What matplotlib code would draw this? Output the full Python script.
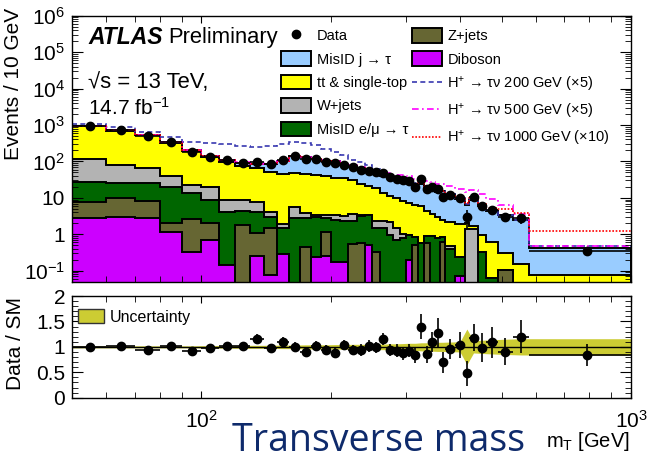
import numpy as np
import matplotlib
matplotlib.use("Agg")
import matplotlib.pyplot as plt
from matplotlib.patches import Patch
from matplotlib.lines import Line2D
from matplotlib.ticker import FixedLocator, FixedFormatter, NullFormatter, MultipleLocator, LogLocator

plt.rcParams['font.family'] = ['Liberation Sans', 'DejaVu Sans']
plt.rcParams['mathtext.default'] = 'regular'

# bin edges in mT [GeV]
edges = np.array([50, 60, 70, 80, 90, 100, 110, 120, 130, 140, 150, 160, 170, 180, 190, 200,
                  210, 220, 230, 240, 250, 260, 270, 280, 290, 300, 310, 320, 330, 340, 350,
                  360, 370, 390, 410, 420, 440, 460, 490, 530, 580, 1000])

# backgrounds (events / 10 GeV)
diboson = [2.75, 2.92, 2.75, 1.18, 0.33, 0.70, 0.144, 0, 0.255, 0.076, 0.29, 0, 0, 0.243, 0.255,
           0.177, 0.177, 0, 0, 0.508, 0, 0, 0, 0, 0, 0.197, 0, 0, 0, 0, 0, 0, 0, 0.07, 0, 0, 0,
           0, 0, 0, 0]
zjets = [5.09, 6.78, 5.6, 0.9, 2.25, 1.3, 0, 1.8, 0.8, 1.38, 0, 0, 0.456, 0, 0.925, 0, 0, 0.53,
         0.56, 0, 0.32, 0, 0, 0, 0, 0, 0.51, 0, 0.57, 0, 0, 0.6, 0, 0, 0, 0, 0, 0, 0.105, 0, 0]
misid_lep = [19.86, 15.3, 17.65, 17.4, 10.7, 6.73, 4.0, 2.64, 3.11, 1.58, 1.17, 2.75, 2.29, 2.8,
             1.57, 2.29, 2.12, 1.77, 2.64, 2.87, 1.14, 1.46, 0.96, 0.70, 0.78, 0.763, 0.32, 0.58,
             0.32, 0.89, 0.78, 0.23, 0.40, 0.17, 0, 0, 0.32, 0.065, 0, 0, 0]
wjets = [86.3, 55, 38.7, 21.1, 8.7, 11.5, 4.55, 4.29, 3.67, 1.13, 0.45, 2.75, 1.02, 0.29, 0.58,
         0.91, 0.9, 1.4, 0.18, 0, 0.82, 0.82, 1.19, 0.76, 0.22, 0, 0, 0, 0, 0, 0, 0, 0.09, 0,
         1.4, 1.4, 0, 0, 0, 0, 0]
ttbar = [816, 625, 455, 287, 173, 110, 89.3, 67.7, 56.9, 46.8, 43.3, 43.5, 41.2, 39.1, 36.7,
         31.6, 31.1, 27.2, 21.4, 18.1, 16.0, 11.0, 9.15, 8.44, 7.4, 6.34, 5.57, 5.22, 3.51,
         2.71, 2.17, 1.64, 1.66, 1.66, 0.6, 0.25, 0.64, 0.56, 0.195, 0.153, 0.074]
misid_jet = [11, 12, 15, 12, 7, 9, 8.5, 15.1, 18.1, 36.5, 54.8, 88, 85, 73.6, 64.5, 65, 47.7,
             45.1, 39.2, 31.5, 32.2, 27.7, 29.2, 24.7, 25.6, 24.1, 17.6, 18.6, 15.8, 14.1,
             11.55, 12.5, 10.35, 7.5, 4.4, 7.25, 5.14, 3.78, 3.1, 2.25, 0.346]

# signals stacked on the background
sig200 = [123, 181, 120, 119, 146, 175, 189, 179, 170, 178, 195, 211, 184, 166, 120, 80, 68, 36,
          33, 27, 11, 4, 3, 2.5, 2, 1.5, 1.2, 1, 0.8, 0.7, 0.6, 0.5, 0.4, 0.3, 0.25, 0.2, 0.15,
          0.1, 0.08, 0.05, 0.05]
sig500 = [1, 1.5, 2, 2, 2.5, 2.5, 3, 3, 3, 3.5, 3.5, 3.5, 4, 4, 4, 4.5, 4.5, 5, 5, 5.5, 6, 7,
          7.5, 8, 8, 8.5, 8.5, 9, 9, 9, 9, 9, 9, 8.5, 8, 7.5, 6.5, 5, 3, 1.2, 0.05]
sig1000 = [0.1, 0.1, 0.1, 0.1, 0.1, 0.15, 0.15, 0.15, 0.15, 0.2, 0.2, 0.2, 0.2, 0.2, 0.25, 0.25,
           0.25, 0.3, 0.3, 0.3, 0.35, 0.35, 0.4, 0.4, 0.4, 0.45, 0.45, 0.5, 0.5, 0.55, 0.6, 0.6,
           0.65, 0.7, 0.8, 0.85, 0.9, 1.0, 1.6, 1.5, 0.83]

data = [938, 729, 499, 348, 187, 135, 109, 93, 95, 85, 109, 137, 118, 118, 98, 89, 82, 72, 60,
        54, 50, 47, 38, 32, 30, 29, 20, 34, 17.3, 19.5, 17.7, 10.5, 12, 9.7, 3.0, 10.5, 6.0, 4.7,
        3.0, 2.75, 0.354]

# data / SM
ratio = [0.997, 1.017, 0.932, 1.023, 0.924, 0.971, 1.023, 1.017, 1.148, 0.971, 1.09, 0.997,
         0.905, 1.017, 0.938, 0.885, 1.03, 0.938, 0.938, 1.017, 0.991, 1.154, 0.938, 0.924,
         0.873, 0.924, 0.84, 1.396, 0.856, 1.101, 1.278, 0.695, 0.957, 1.036, 0.48, 1.18, 0.983,
         1.09, 0.905, 1.2, 0.84]
ratio_err = [0.03, 0.035, 0.04, 0.05, 0.06, 0.07, 0.08, 0.08, 0.1, 0.09, 0.1, 0.09, 0.09, 0.09,
             0.1, 0.1, 0.1, 0.1, 0.11, 0.11, 0.11, 0.12, 0.12, 0.13, 0.13, 0.13, 0.15, 0.25,
             0.17, 0.2, 0.28, 0.2, 0.2, 0.25, 0.25, 0.27, 0.28, 0.3, 0.26, 0.33, 0.21]
band = [0.02, 0.02, 0.02, 0.02, 0.02, 0.025, 0.025, 0.03, 0.03, 0.03, 0.035, 0.035, 0.04, 0.04,
        0.04, 0.045, 0.045, 0.05, 0.05, 0.05, 0.055, 0.055, 0.06, 0.06, 0.065, 0.07, 0.07,
        0.08, 0.08, 0.085, 0.09, 0.09, 0.095, 0.1, 0.35, 0.12, 0.13, 0.14, 0.15, 0.16, 0.16]

centers = 0.5 * (edges[:-1] + edges[1:])
halfw = 0.5 * np.diff(edges)

bkg = np.array([diboson, zjets, misid_lep, wjets, ttbar, misid_jet], dtype=float)
bkg_colors = ['#cc00ff', '#666633', '#006600', '#b3b3b3', '#ffff00', '#99ccff']
cum = np.cumsum(bkg, axis=0)
total = cum[-1]

W, H = 647, 462
fig = plt.figure(figsize=(W / 100, H / 100), dpi=100)


def box(l, t, r, b):
    return [l / W, 1 - b / H, (r - l) / W, (b - t) / H]


ax = fig.add_axes(box(72, 15.7, 631, 281.7))
rax = fig.add_axes(box(72, 296, 631, 397.7))

floor = 1e-3
for lev, col in zip(cum[::-1], bkg_colors[::-1]):
    v = np.maximum(lev, floor)
    ax.stairs(v, edges, baseline=floor, fill=True, facecolor=col, edgecolor='none')
    ax.stairs(v, edges, baseline=floor, color='black', lw=1.4)

ax.stairs(total + np.array(sig200), edges, baseline=None, color='#3838b0', ls=(0, (3, 2)), lw=1.2)
ax.stairs(total + np.array(sig500), edges, baseline=None, color='#ff00ff', ls=(0, (4, 2, 1, 2)), lw=1.2)
ax.stairs(total + np.array(sig1000), edges, baseline=None, color='#ff0000', ls=(0, (1, 1)), lw=1.2)

data = np.array(data)
derr = np.array(ratio_err) * total
ax.errorbar(centers, data, xerr=halfw, yerr=[np.minimum(derr, data * 0.9), derr], fmt='o',
            color='black', ms=6, elinewidth=1.2, capsize=0, zorder=5)

ax.set_xscale('log')
ax.set_yscale('log')
ax.set_xlim(50, 1000)
ax.set_ylim(0.05, 1e6)

# ratio panel
xb = np.concatenate([[edges[0]], centers, [edges[-1]]])
bb = np.array([band[0]] + band + [band[-1]])
rax.fill_between(xb, 1 - bb, 1 + bb, color='#cccc33', lw=0)
rax.axhline(1, color='black', lw=1)
rax.errorbar(centers, ratio, xerr=halfw, yerr=ratio_err, fmt='o', color='black', ms=6,
             elinewidth=1.2, capsize=0, zorder=5)
rax.set_xscale('log')
rax.set_xlim(50, 1000)
rax.set_ylim(0, 2)

# ticks
for a in (ax, rax):
    a.tick_params(which='both', direction='in', top=True, right=True, labelsize=15, pad=5)
    a.xaxis.set_major_locator(FixedLocator([100, 1000]))
    a.xaxis.set_minor_locator(LogLocator(base=10, subs=np.arange(2, 10)))
    a.xaxis.set_minor_formatter(NullFormatter())
    a.tick_params(axis='x', which='major', length=5)
    a.tick_params(axis='x', which='minor', length=4)
    for s in a.spines.values():
        s.set_linewidth(1.0)

ax.xaxis.set_major_formatter(NullFormatter())
rax.xaxis.set_major_formatter(FixedFormatter(['$10^{2}$', '$10^{3}$']))
rax.tick_params(axis='x', pad=9)

yt = [0.1, 1, 10, 1e2, 1e3, 1e4, 1e5, 1e6]
ax.yaxis.set_major_locator(FixedLocator(yt))
ax.yaxis.set_major_formatter(FixedFormatter(['$10^{-1}$', '1', '10', '$10^{2}$', '$10^{3}$',
                                             '$10^{4}$', '$10^{5}$', '$10^{6}$']))
ax.yaxis.set_minor_locator(LogLocator(base=10, subs=np.arange(2, 10), numticks=20))
ax.yaxis.set_minor_formatter(NullFormatter())
ax.tick_params(axis='y', which='major', length=8)
ax.tick_params(axis='y', which='minor', length=4)

rax.yaxis.set_major_locator(FixedLocator([0, 0.5, 1, 1.5, 2]))
rax.yaxis.set_major_formatter(FixedFormatter(['0', '0.5', '1', '1.5', '2']))
rax.yaxis.set_minor_locator(MultipleLocator(0.1))
rax.tick_params(axis='y', which='major', length=8)
rax.tick_params(axis='y', which='minor', length=4)

# labels
fig.text(14 / W, 1 - 8 / H, 'Events / 10 GeV', rotation=90, ha='center', va='top', fontsize=15)
fig.text(16 / W, 1 - 297 / H, 'Data / SM', rotation=90, ha='center', va='top', fontsize=15)
fig.text(88 / W, 1 - 43.5 / H, 'ATLAS', fontsize=16.5, fontweight='bold', style='italic', va='baseline')
fig.text(168 / W, 1 - 43.5 / H, 'Preliminary', fontsize=15.8, va='baseline')
fig.text(88 / W, 1 - 88 / H, '\u221as = 13 TeV,', fontsize=15.8, va='baseline')
fig.text(88 / W, 1 - 115 / H, '14.7 fb$^{-1}$', fontsize=15, va='baseline')
fig.text(232 / W, 1 - 451 / H, 'Transverse mass', fontsize=27, family=['Open Sans', 'DejaVu Sans'],
         color='#0e2a6b', va='baseline')
fig.text(630 / W, 1 - 447 / H, '$m_{T}$ [GeV]', fontsize=14.5, ha='right', va='baseline')

# legends
edge = dict(edgecolor='black', lw=1.4)
handles = [
    Line2D([], [], marker='o', ls='none', color='black', ms=6),
    Patch(facecolor=bkg_colors[5], **edge),
    Patch(facecolor=bkg_colors[4], **edge),
    Patch(facecolor=bkg_colors[3], **edge),
    Patch(facecolor=bkg_colors[2], **edge),
    Patch(facecolor=bkg_colors[1], **edge),
    Patch(facecolor=bkg_colors[0], **edge),
    Line2D([], [], color='#3838b0', ls=(0, (3, 2)), lw=1.2),
    Line2D([], [], color='#ff00ff', ls=(0, (4, 2, 1, 2)), lw=1.2),
    Line2D([], [], color='#ff0000', ls=(0, (1, 1)), lw=1.2),
]
labels = ['Data', 'MisID j \u2192 \u03c4', 'tt & single-top', 'W+jets', 'MisID e/\u03bc \u2192 \u03c4',
          'Z+jets', 'Diboson', 'H$^{+}$ \u2192 \u03c4\u03bd 200 GeV (\u00d75)',
          'H$^{+}$ \u2192 \u03c4\u03bd 500 GeV (\u00d75)', 'H$^{+}$ \u2192 \u03c4\u03bd 1000 GeV (\u00d710)']
ax.legend(handles, labels, ncol=2, loc='upper left', bbox_to_anchor=(281 / W, 1 - 28 / H),
          bbox_transform=fig.transFigure, frameon=False, fontsize=10.5, handlelength=2.05,
          handleheight=1.16, handletextpad=0.4, labelspacing=0.56, columnspacing=0.25,
          borderpad=0, borderaxespad=0)

rax.legend([Patch(facecolor='#cccc33', edgecolor='#333333', lw=1)], ['Uncertainty'],
           loc='upper left', bbox_to_anchor=(78 / W, 1 - 309 / H), bbox_transform=fig.transFigure,
           frameon=False, fontsize=11.5, handlelength=1.63, handleheight=1.0, handletextpad=0.38,
           borderpad=0, borderaxespad=0)

fig.savefig('out.png', dpi=100)
